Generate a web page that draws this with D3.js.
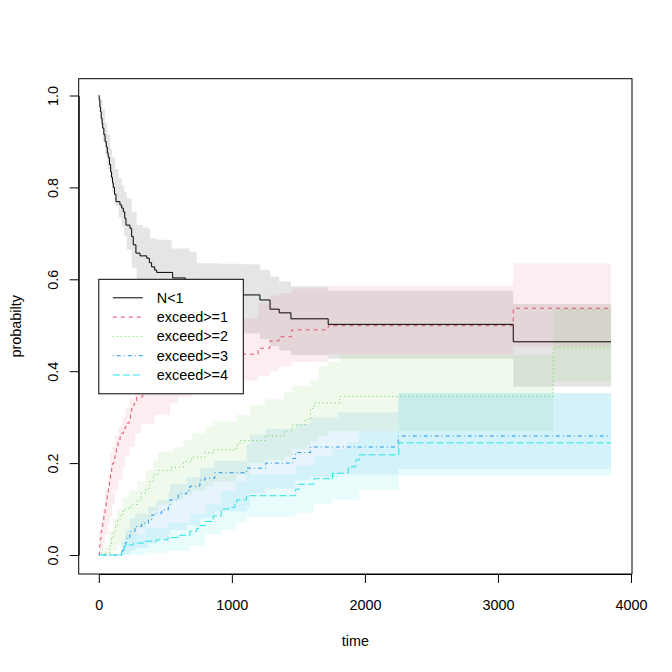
<!DOCTYPE html>
<html>
<head>
<meta charset="utf-8">
<script src="https://cdn.jsdelivr.net/npm/d3@7"></script>
<style>
  body { margin: 0; background: #fff; }
  svg text { font-family: "Liberation Sans", Arial, Helvetica, sans-serif; fill: #000; }
</style>
</head>
<body>
<div id="graphic"></div>
<script>
// ---- data ----
const stateNames = ["N<1", "exceed>=1", "exceed>=2", "exceed>=3", "exceed>=4"];
const xTicks = [0, 1000, 2000, 3000, 4000];
const yTicks = [0, 0.2, 0.4, 0.6, 0.8, 1];
const timeEnd = 3850;

// step curves: [time, probability]
const n1Steps = [[0,1],[3,0.99],[8,0.975],[12,0.965],[18,0.95],[25,0.94],[29,0.929],[38,0.915],[47,0.9],[56,0.888],[64,0.875],[71,0.865],[80,0.85],[89,0.834],[96,0.822],[103,0.81],[109,0.8],[118,0.785],[129,0.769],[159,0.762],[172,0.755],[184,0.747],[195,0.733],[204,0.718],[234,0.711],[247,0.693],[259,0.675],[279,0.657],[310,0.651],[360,0.646],[380,0.636],[397,0.627],[420,0.62],[435,0.615],[555,0.603],[650,0.598],[760,0.59],[880,0.58],[980,0.572],[1050,0.566],[1211,0.555],[1287,0.535],[1356,0.527],[1444,0.514],[1724,0.502],[3115,0.464]];
const ex1Steps = [[0,0],[4,0.02],[10,0.035],[16,0.05],[22,0.06],[30,0.075],[38,0.09],[47,0.105],[55,0.12],[63,0.135],[71,0.15],[80,0.165],[88,0.18],[97,0.192],[105,0.2],[113,0.21],[122,0.221],[132,0.232],[145,0.245],[159,0.257],[170,0.265],[185,0.272],[197,0.279],[213,0.287],[229,0.294],[238,0.306],[247,0.319],[265,0.33],[285,0.344],[330,0.355],[400,0.37],[480,0.385],[560,0.395],[650,0.405],[750,0.415],[850,0.423],[960,0.43],[1060,0.437],[1198,0.45],[1286,0.466],[1354,0.475],[1449,0.49],[1724,0.499],[3115,0.537]];
const ex2Steps = [[0,0],[20,0.004],[80,0.02],[95,0.035],[110,0.05],[125,0.065],[140,0.075],[160,0.085],[180,0.095],[200,0.1],[225,0.105],[255,0.11],[290,0.12],[320,0.135],[355,0.145],[380,0.16],[410,0.175],[447,0.184],[548,0.191],[635,0.203],[698,0.213],[798,0.223],[860,0.229],[1036,0.239],[1061,0.249],[1250,0.259],[1394,0.27],[1454,0.283],[1549,0.295],[1592,0.319],[1619,0.331],[1812,0.345],[3415,0.451]];
const ex3Steps = [[0,0],[175,0.009],[184,0.018],[200,0.027],[210,0.036],[234,0.051],[272,0.062],[322,0.069],[372,0.076],[397,0.087],[435,0.091],[473,0.098],[522,0.105],[535,0.12],[597,0.133],[660,0.14],[685,0.15],[760,0.163],[797,0.167],[872,0.179],[1111,0.189],[1254,0.2],[1457,0.21],[1479,0.223],[1592,0.235],[2250,0.259]];
const ex4Steps = [[0,0],[172,0.009],[190,0.018],[200,0.022],[260,0.026],[350,0.03],[435,0.033],[520,0.038],[610,0.043],[685,0.052],[735,0.058],[760,0.064],[800,0.073],[860,0.085],[920,0.1],[975,0.103],[1023,0.113],[1036,0.12],[1111,0.129],[1479,0.143],[1504,0.154],[1617,0.166],[1757,0.178],[1875,0.192],[1932,0.207],[1957,0.218],[2255,0.244]];

// confidence bands: [time, lower, upper]
const n1Band = [[0,1,1],[5,0.975,1],[15,0.935,0.99],[30,0.9,0.97],[47,0.87,0.94],[65,0.84,0.915],[84,0.815,0.885],[100,0.79,0.865],[122,0.76,0.84],[150,0.735,0.82],[172,0.715,0.805],[190,0.695,0.79],[210,0.665,0.776],[247,0.625,0.747],[285,0.6,0.718],[330,0.595,0.713],[372,0.585,0.711],[385,0.575,0.689],[435,0.56,0.686],[535,0.548,0.685],[548,0.538,0.667],[685,0.53,0.66],[735,0.515,0.635],[900,0.5,0.634],[1084,0.482,0.633],[1211,0.47,0.62],[1287,0.455,0.606],[1356,0.445,0.595],[1444,0.435,0.585],[1724,0.427,0.575],[3115,0.366,0.546]];
const ex1Band = [[0,0,0],[5,0,0.05],[15,0.01,0.075],[30,0.025,0.1],[47,0.045,0.14],[71,0.07,0.18],[84,0.085,0.221],[100,0.11,0.235],[122,0.14,0.26],[147,0.165,0.279],[175,0.19,0.3],[198,0.215,0.32],[230,0.235,0.34],[272,0.265,0.36],[320,0.285,0.38],[420,0.305,0.395],[535,0.33,0.41],[597,0.344,0.425],[700,0.355,0.44],[850,0.365,0.46],[1000,0.375,0.48],[1084,0.38,0.515],[1198,0.39,0.55],[1286,0.4,0.565],[1354,0.41,0.57],[1449,0.42,0.58],[1724,0.437,0.586],[3115,0.453,0.635]];
const ex2Band = [[0,0,0],[20,0,0.02],[80,0,0.05],[110,0.01,0.08],[140,0.02,0.1],[180,0.035,0.125],[225,0.045,0.14],[290,0.06,0.16],[355,0.075,0.185],[410,0.095,0.205],[445,0.11,0.225],[560,0.12,0.235],[635,0.13,0.25],[700,0.14,0.265],[800,0.15,0.28],[860,0.16,0.29],[1035,0.175,0.305],[1136,0.2,0.326],[1250,0.207,0.339],[1394,0.214,0.354],[1454,0.232,0.368],[1592,0.248,0.382],[1650,0.259,0.41],[1720,0.27,0.42],[1812,0.27,0.435],[3415,0.377,0.537]];
const ex3Band = [[0,0,0],[175,0,0.035],[200,0.002,0.055],[234,0.01,0.08],[272,0.015,0.09],[372,0.025,0.105],[435,0.035,0.12],[522,0.045,0.135],[535,0.055,0.155],[660,0.065,0.17],[760,0.08,0.19],[872,0.095,0.205],[1111,0.105,0.24],[1136,0.134,0.263],[1254,0.144,0.275],[1479,0.163,0.285],[1592,0.17,0.3],[1800,0.175,0.31],[2250,0.187,0.352]];
const ex4Band = [[0,0,0],[172,0,0.03],[200,0,0.045],[350,0.005,0.06],[520,0.01,0.07],[685,0.02,0.09],[800,0.045,0.11],[920,0.055,0.14],[1030,0.07,0.16],[1111,0.083,0.175],[1479,0.092,0.195],[1617,0.111,0.215],[1757,0.121,0.23],[1875,0.121,0.245],[1957,0.141,0.27],[2255,0.172,0.352]];

const stepsList = [n1Steps, ex1Steps, ex2Steps, ex3Steps, ex4Steps];
const bandList = [n1Band, ex1Band, ex2Band, ex3Band, ex4Band];

// ---- styling (R default palette and line types) ----
const colours = ["#000000", "#DF536B", "#61D04F", "#2297E6", "#28E2E5"];
const dashes = [null, "4,4", "1,3", "1,3,4,3", "7,3"];

const width = 672, height = 672;
const fontSize = 14.4;

// plot region edges (R adds 4% each side)
const box = { left: 78.7, right: 632, top: 78.7, bottom: 574 };

const x = d3.scaleLinear().domain([0, 4000]).range([98.8, 631]);
const y = d3.scaleLinear().domain([0, 1]).range([555, 95.5]);

const svg = d3.select('#graphic').append('svg')
	.attr('width', width)
	.attr('height', height);

// bands first
const area = d3.area()
	.curve(d3.curveStepAfter)
	.x(d => x(d[0]))
	.y0(d => y(d[1]))
	.y1(d => y(d[2]));

bandList.forEach((band, i) => {
	const last = band[band.length - 1];
	svg.append('path')
		.datum(band.concat([[timeEnd, last[1], last[2]]]))
		.attr('fill', colours[i])
		.attr('fill-opacity', 0.1)
		.attr('stroke', 'none')
		.attr('d', area);
});

// curves on top
const line = d3.line()
	.curve(d3.curveStepAfter)
	.x(d => x(d[0]))
	.y(d => y(d[1]));

stepsList.forEach((steps, i) => {
	const last = steps[steps.length - 1];
	svg.append('path')
		.datum(steps.concat([[timeEnd, last[1]]]))
		.attr('fill', 'none')
		.attr('stroke', colours[i])
		.attr('stroke-width', 1)
		.attr('stroke-dasharray', dashes[i])
		.attr('d', line);
});

// box
svg.append('rect')
	.attr('x', box.left)
	.attr('y', box.top)
	.attr('width', box.right - box.left)
	.attr('height', box.bottom - box.top)
	.attr('fill', 'none')
	.attr('stroke', '#000')
	.attr('stroke-width', 1);

// x axis
const xAxis = d3.axisBottom(x)
	.tickValues(xTicks)
	.tickSize(9)
	.tickSizeOuter(0)
	.tickFormat(d3.format('d'));

const gx = svg.append('g')
	.attr('transform', `translate(0,${box.bottom})`)
	.call(xAxis);
gx.selectAll('text')
	.attr('y', 36)
	.attr('dy', null)
	.style('font-size', fontSize + 'px');

// y axis
const yAxis = d3.axisLeft(y)
	.tickValues(yTicks)
	.tickSize(9)
	.tickSizeOuter(0)
	.tickFormat(d3.format('.1f'));

const gy = svg.append('g')
	.attr('transform', `translate(${box.left},0)`)
	.call(yAxis);
gy.selectAll('text')
	.attr('transform', 'rotate(-90)')
	.attr('x', 0)
	.attr('y', -21)
	.attr('dy', null)
	.attr('text-anchor', 'middle')
	.style('font-size', fontSize + 'px');

svg.selectAll('.domain, .tick line').attr('stroke', '#000');

// axis titles
svg.append('text')
	.attr('x', (box.left + box.right) / 2)
	.attr('y', 646)
	.attr('text-anchor', 'middle')
	.style('font-size', fontSize + 'px')
	.text('time');

svg.append('text')
	.attr('transform', `translate(21,${(box.top + box.bottom) / 2}) rotate(-90)`)
	.attr('text-anchor', 'middle')
	.style('font-size', fontSize + 'px')
	.text('probabilty');

// legend, top-left corner at (0, 0.6)
const legX = x(0), legY = y(0.6);
const rowH = 19.3;
const legend = svg.append('g').attr('transform', `translate(${legX},${legY})`);

legend.append('rect')
	.attr('x', 0)
	.attr('y', 0)
	.attr('width', 144.5)
	.attr('height', 114.5)
	.attr('fill', '#fff')
	.attr('stroke', '#000')
	.attr('stroke-width', 1);

stateNames.forEach((name, i) => {
	const ry = 18.5 + i * rowH;
	legend.append('line')
		.attr('x1', 14)
		.attr('x2', 44)
		.attr('y1', ry)
		.attr('y2', ry)
		.attr('stroke', colours[i])
		.attr('stroke-width', 1)
		.attr('stroke-dasharray', dashes[i]);
	legend.append('text')
		.attr('x', 58)
		.attr('y', ry + 5)
		.style('font-size', fontSize + 'px')
		.text(name);
});
</script>
</body>
</html>
